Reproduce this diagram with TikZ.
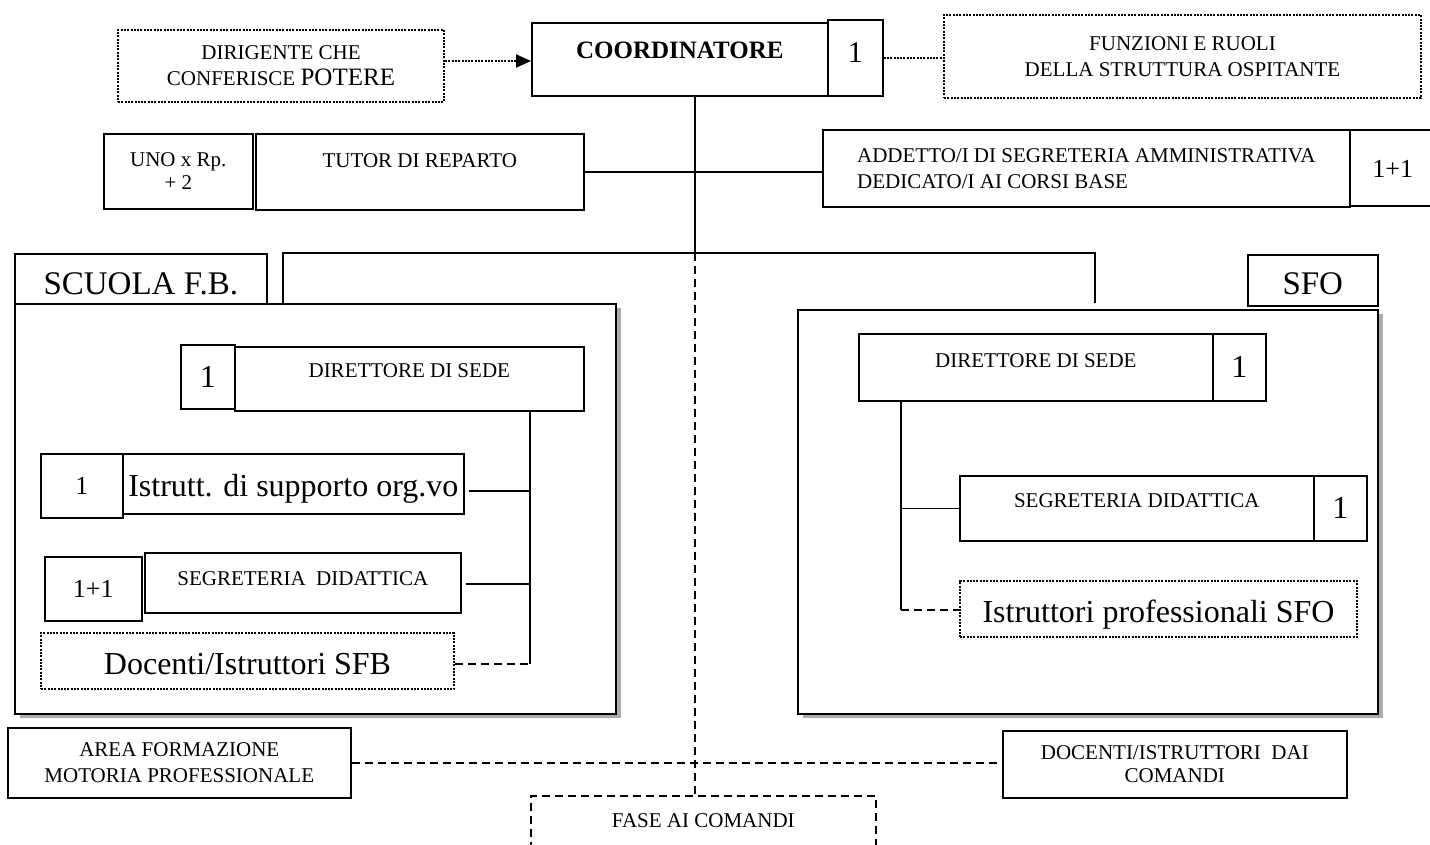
\documentclass[tikz,border=0pt]{standalone}
\usepackage{fontspec}
\setmainfont{Liberation Serif}
\usetikzlibrary{arrows.meta,shadows}
\newcommand{\tsmall}{\fontsize{21}{26}\selectfont}
\newcommand{\fsz}[1]{\fontsize{#1}{#1}\selectfont}
\begin{document}
\begin{tikzpicture}[x=1pt, y=-1pt, >={Triangle[length=15pt,width=13pt]},
  box/.style={draw, line width=1.6pt, inner sep=0pt, anchor=north west, align=center, font=\tsmall},
  dotbox/.style={box, line width=2pt, dash pattern=on 2pt off 1.3pt},
  dashbox/.style={box, dash pattern=on 8pt off 5pt},
  bigbox/.style={box, fill=white, drop shadow={shadow xshift=5pt, shadow yshift=-4pt, fill=gray!65, opacity=1}},
  sz/.style 2 args={minimum width=#1pt, minimum height=#2pt},
  textat/.style 2 args={text height=#1pt, text depth=#2pt},
  link/.style={line width=1.6pt},
  dotlink/.style={link, line width=2pt, dash pattern=on 2pt off 1.3pt},
  dashlink/.style={link, dash pattern=on 8pt off 5pt}]
\useasboundingbox (0,0) rectangle (1430,845);
\node[dotbox, sz={326}{72}] (dirig) at (117,29) {DIRIGENTE CHE\\CONFERISCE {\fsz{25}POTERE}};
\node[box, sz={296}{73}, textat={36}{37}, font=\fsz{25}\bfseries] (coord) at (531,22) {COORDINATORE};
\node[box, sz={55}{76}, textat={43}{33}, font=\fsz{30}] (cnum) at (827,19) {1};
\node[dotbox, sz={477}{83}] (funz) at (943,14) {FUNZIONI E RUOLI\\DELLA STRUTTURA OSPITANTE};
\node[box, sz={149}{75}, font=\fontsize{21}{23}\selectfont] (uno) at (103,133) {UNO x Rp.\\+ 2};
\node[box, sz={328}{76}, textat={34}{42}] (tutor) at (255,133) {TUTOR DI REPARTO};
\node[box, sz={527}{77}, align=left] (addetto) at (822,129) {ADDETTO/I DI SEGRETERIA AMMINISTRATIVA\\DEDICATO/I AI CORSI BASE};
\node[box, sz={86}{76}, textat={48}{28}, font=\fsz{26}] (anum) at (1349,129) {1+1};

\node[box, sz={252}{50}, textat={41}{9}, font=\fsz{33}] (sfbtab) at (14,253) {SCUOLA F.B.};
\node[box, sz={130}{51}, textat={40}{11}, font=\fsz{33}] (sfotab) at (1247,254) {SFO};
\node[bigbox, sz={601}{410}] (sfb) at (14,303) {};
\node[bigbox, sz={580}{404}] (sfo) at (797,309) {};

\node[box, sz={54}{64}, font=\fsz{32}] (dirLn) at (180,344) {1};
\node[box, sz={349}{64}, textat={31}{33}] (dirL) at (234,346) {DIRETTORE DI SEDE};
\node[box, sz={82}{64}, font=\fsz{26}] (istLn) at (40,453) {1};
\node[box, sz={341}{60}, textat={43}{17}, font=\fsz{32}] (istL) at (122,453) {Istrutt. di supporto org.vo};
\node[box, sz={97}{64}, font=\fsz{26}] (segLn) at (44,556) {1+1};
\node[box, sz={316}{60}, textat={33}{27}] (segL) at (144,552) {SEGRETERIA\ \ DIDATTICA};
\node[dotbox, sz={413}{56}, textat={41}{15}, font=\fsz{32}] (docL) at (40,632) {Docenti/Istruttori SFB};

\node[box, sz={354}{67}, textat={34}{33}] (dirR) at (858,333) {DIRETTORE DI SEDE};
\node[box, sz={53}{67}, font=\fsz{32}] (dirRn) at (1212,333) {1};
\node[box, sz={354}{65}, textat={32}{33}] (segR) at (959,475) {SEGRETERIA DIDATTICA};
\node[box, sz={53}{65}, font=\fsz{32}] (segRn) at (1313,475) {1};
\node[dotbox, sz={397}{56}, textat={41}{15}, font=\fsz{32}] (istR) at (959,580) {Istruttori professionali SFO};

\node[box, sz={343}{70}] (area) at (7,727) {AREA FORMAZIONE\\MOTORIA PROFESSIONALE};
\node[box, sz={344}{67}, font=\fontsize{21}{23}\selectfont] (docC) at (1002,730) {DOCENTI/ISTRUTTORI\ \ DAI\\COMANDI};
\node[dashbox, sz={345}{70}, textat={32}{38}] (fase) at (530,795) {FASE AI COMANDI};

\coordinate (arrS) at ([yshift=5pt]dirig.east);
\coordinate (hub) at (695,253);
\coordinate (hubL) at (283,253);
\coordinate (hubR) at (1095,253);
\coordinate (jL1) at (530,491);
\coordinate (jL2) at (530,584);
\coordinate (jL) at (530,664);
\coordinate (jR) at (901,610);

\draw[dotlink,->] (arrS) -- (coord.west |- arrS);
\draw[dotlink] (cnum.east) -- (funz.west |- cnum.east);
\draw[link] (coord.south -| hub) -- (hub);
\draw[link] (tutor.east) -- (tutor.east -| addetto.west);
\draw[link] (hubL |- sfb.north) -- (hubL) -- (hubR) -- (hubR |- sfb.north);
\draw[dashlink] (hub) -- (hub |- fase.north);

\draw[link] (dirL.south -| jL) -- (jL);
\draw[link, shorten <=4pt] (istL.east |- jL1) -- (jL1);
\draw[link, shorten <=4pt] (segL.east |- jL2) -- (jL2);
\draw[dashlink] (docL.east |- jL) -- (jL);

\draw[link] (dirR.south -| jR) -- (jR);
\draw[link] (jR |- segR.west) -- (segR.west);
\draw[dashlink] (jR) -- (istR.west |- jR);

\draw[dashlink] (area.east) -- (docC.west |- area.east);
\end{tikzpicture}
\end{document}
